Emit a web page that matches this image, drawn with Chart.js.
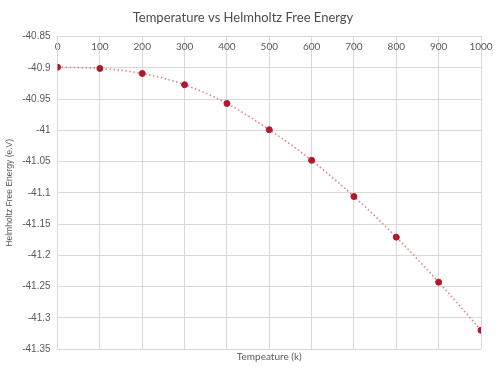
<!DOCTYPE html>
<html>
<head>
<meta charset="utf-8">
<script src="https://cdn.jsdelivr.net/npm/chart.js@4/dist/chart.umd.min.js"></script>
<style>
  html, body { margin: 0; padding: 0; background: #fff; }
  #wrap { width: 500px; height: 374px; }
</style>
</head>
<body>
<div id="wrap"><canvas id="chart"></canvas></div>
<script>
// temperature (k) and free energy (e.V)
const temps = [0, 100, 200, 300, 400, 500, 600, 700, 800, 900, 1000];
const energy = [-40.899, -40.901, -40.909, -40.927, -40.957, -40.999, -41.048, -41.106, -41.171, -41.243, -41.320];
const yMin = -41.35, yMax = -40.85, yStep = 0.05;
const xMin = 0, xMax = 1000, xStep = 100;

const pts = temps.map((t, i) => ({ x: t, y: energy[i] }));
const grey = '#595959';
const gridCol = '#D9D9D9';
const font = 'Lato, "Open Sans", sans-serif';
const sans = '"Liberation Sans", Arial, sans-serif';

new Chart(document.getElementById('chart'), {
  type: 'scatter',
  data: {
    datasets: [
      {
        // dotted trend line
        data: pts,
        showLine: true,
        borderColor: '#EB7F83',
        borderWidth: 1.6,
        borderDash: [1.5, 2.5],
        cubicInterpolationMode: 'monotone',
        pointRadius: 0,
        order: 2
      },
      {
        data: pts,
        showLine: false,
        backgroundColor: '#B3172B',
        borderColor: '#B3172B',
        pointRadius: 3,
        order: 1
      }
    ]
  },
  options: {
    responsive: true,
    maintainAspectRatio: false,
    animation: false,
    layout: { padding: { left: 5, right: 19, top: 0, bottom: 11 } },
    plugins: {
      legend: { display: false },
      tooltip: { enabled: false },
      title: {
        display: true,
        text: 'Temperature vs Helmholtz Free Energy',
        color: '#4d4d4d',
        font: { family: font, size: 13, weight: 'normal' },
        padding: { top: 10, bottom: 3 }
      }
    },
    scales: {
      x: {
        type: 'linear',
        position: 'top',
        min: xMin, max: xMax,
        ticks: {
          stepSize: xStep, color: grey, font: { family: font, size: 10 },
          mirror: true, padding: 4, maxRotation: 0,
          callback: v => String(v)
        },
        grid: { color: gridCol, lineWidth: 1, drawTicks: false },
        border: { display: true, color: gridCol }
      },
      x2: {
        type: 'linear',
        position: 'bottom',
        min: xMin, max: xMax,
        ticks: { display: false },
        grid: { display: false, drawTicks: false },
        border: { display: false },
        title: { display: true, text: 'Tempeature (k)', color: grey, font: { family: font, size: 10 }, padding: { top: 2, bottom: 0 } }
      },
      y: {
        min: yMin, max: yMax,
        ticks: {
          stepSize: yStep, color: grey, font: { family: sans, size: 10 }, padding: 7,
          callback: v => String(+v.toFixed(2))
        },
        grid: { color: gridCol, lineWidth: 1, drawTicks: false },
        border: { display: true, color: gridCol },
        title: { display: true, text: 'Helmholtz Free Energy (e.V)', color: grey, font: { family: sans, size: 8.5 }, padding: { top: 0, bottom: 0 } }
      }
    }
  }
});
</script>
</body>
</html>
